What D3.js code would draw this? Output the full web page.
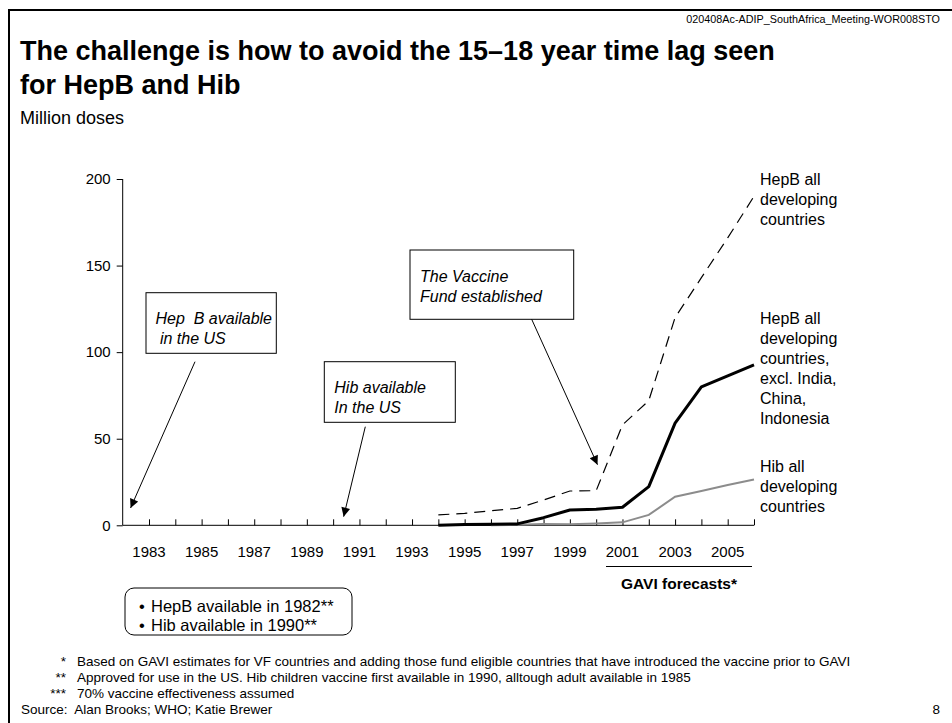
<!DOCTYPE html>
<html>
<head>
<meta charset="utf-8">
<script src="https://cdn.jsdelivr.net/npm/d3@7"></script>
<style>
  html, body { margin: 0; padding: 0; background: #fff; }
  svg { display: block; font-family: "Liberation Sans", Arial, sans-serif; }
</style>
</head>
<body>
<svg id="chart" width="952" height="723"></svg>
<script>
// Annual doses (millions), actuals followed by GAVI forecasts
const years = [1994, 1995, 1996, 1997, 1998, 1999, 2000, 2001, 2002, 2003, 2004, 2005, 2006];
const hepbAll = [6, 6.9, 8.4, 9.8, 14.6, 19.8, 20, 58, 72, 120, 143, 166, 190];
const hepbExcl = [0, 0.4, 0.6, 0.8, 4.4, 8.8, 9.2, 10.4, 22.3, 59, 80, 86.3, 92.6];
const hibAll = [null, null, 0, 0.3, 0.8, 0.6, 1.0, 1.7, 6, 16.5, 19.8, 23.3, 26.5];

const yearTicks = d3.range(1983, 2007);
const yearLabels = [1983, 1985, 1987, 1989, 1991, 1993, 1995, 1997, 1999, 2001, 2003, 2005];
const valueTicks = [0, 50, 100, 150, 200];

const seriesLabels = [
  ["HepB all", "developing", "countries"],
  ["HepB all", "developing", "countries,", "excl. India,", "China,", "Indonesia"],
  ["Hib all", "developing", "countries"]
];

const callouts = [
  { lines: ["Hep  B available", " in the US"], year: 1982.3, value: 10 },
  { lines: ["Hib available", "In the US"], year: 1990.4, value: 5 },
  { lines: ["The Vaccine", "Fund established"], year: 2000.05, value: 35 }
];

const notes = [
  ["*", "Based on GAVI estimates for VF countries and adding those fund eligible countries that have introduced the vaccine prior to GAVI"],
  ["**", "Approved for use in the US. Hib children vaccine first available in 1990, alltough adult available in 1985"],
  ["***", "70% vaccine effectiveness assumed"]
];
const availability = ["HepB available in 1982**", "Hib available in 1990**"];

const svg = d3.select("#chart");

// slide frame (left and top rules)
svg.append("path")
  .attr("d", "M9,723 V10 H952")
  .attr("fill", "none").attr("stroke", "#000").attr("stroke-width", 2);

svg.append("text").attr("x", 940).attr("y", 23).attr("text-anchor", "end")
  .attr("font-size", 10.8).text("020408Ac-ADIP_SouthAfrica_Meeting-WOR008STO");

const title = svg.append("text").attr("font-weight", "bold").attr("font-size", 27);
title.append("tspan").attr("x", 20).attr("y", 60).text("The challenge is how to avoid the 15\u201318 year time lag seen");
title.append("tspan").attr("x", 20).attr("y", 94).text("for HepB and Hib");

svg.append("text").attr("x", 20).attr("y", 124).attr("font-size", 18).text("Million doses");

const x = d3.scaleLinear().domain([1982, 2006]).range([122.7, 754]);
const y = d3.scaleLinear().domain([0, 200]).range([525.3, 179]);

// y axis
const yAxis = svg.append("g").attr("transform", `translate(${x(1982)},0)`)
  .call(d3.axisLeft(y).tickValues(valueTicks).tickSize(6).tickPadding(6).tickFormat(d3.format("d")));
yAxis.select(".domain").attr("stroke", "#000").attr("d", `M0,${y(200)}V${y(0)}`);
yAxis.selectAll("text").attr("font-size", 15).attr("font-family", "Liberation Sans, Arial, sans-serif").attr("fill", "#000");

// x axis: ticks point up into the plot
const xAxis = svg.append("g").attr("transform", `translate(0,${y(0)})`)
  .call(d3.axisTop(x).tickValues(yearTicks).tickSize(6).tickFormat(""));
xAxis.select(".domain").attr("stroke", "#000").attr("d", `M${x(1982)},0H${x(2006)}`);

svg.append("g").selectAll("text").data(yearLabels).join("text")
  .attr("x", d => x(d)).attr("y", y(0) + 32)
  .attr("text-anchor", "middle").attr("font-size", 15).text(d => d);

// series
const line = d3.line().defined(d => d[1] != null).x(d => x(d[0])).y(d => y(d[1]));
const zip = vals => years.map((yr, i) => [yr, vals[i]]);

svg.append("path").datum(zip(hibAll)).attr("d", line)
  .attr("fill", "none").attr("stroke", "#8c8c8c").attr("stroke-width", 2);
svg.append("path").datum(zip(hepbExcl)).attr("d", line)
  .attr("fill", "none").attr("stroke", "#000").attr("stroke-width", 3).attr("stroke-linejoin", "round");
svg.append("path").datum(zip(hepbAll)).attr("d", line)
  .attr("fill", "none").attr("stroke", "#000").attr("stroke-width", 1.2).attr("stroke-dasharray", "11,7");

// series labels
const labelTops = [185, 324, 472];
seriesLabels.forEach((lines, i) => {
  const t = svg.append("text").attr("font-size", 16);
  lines.forEach((s, j) => t.append("tspan").attr("x", 760).attr("y", labelTops[i] + j * 20)
    .text(s));
});

// callout boxes with arrows
const boxes = [
  { x0: 146, y0: 292.7, x1: 276.3, y1: 353.3, tx: 155.5, ty: 324, from: [195, 361.7] },
  { x0: 324.3, y0: 361.7, x1: 455.3, y1: 422.3, tx: 334.3, ty: 393, from: [365.3, 426.7] },
  { x0: 410, y0: 250, x1: 573.7, y1: 319.3, tx: 420, ty: 282, from: [531.7, 319.3] }
];

svg.append("defs").append("marker")
  .attr("id", "head").attr("viewBox", "0 0 10 10").attr("refX", 10).attr("refY", 5)
  .attr("markerWidth", 11).attr("markerHeight", 9).attr("markerUnits", "userSpaceOnUse")
  .attr("orient", "auto")
  .append("path").attr("d", "M0,0L10,5L0,10Z").attr("fill", "#000");

callouts.forEach((c, i) => {
  const b = boxes[i];
  svg.append("rect").attr("x", b.x0).attr("y", b.y0)
    .attr("width", b.x1 - b.x0).attr("height", b.y1 - b.y0)
    .attr("fill", "#fff").attr("stroke", "#000").attr("stroke-width", 1);
  const t = svg.append("text").attr("font-size", 16).attr("font-style", "italic")
    .attr("xml:space", "preserve");
  c.lines.forEach((s, j) => t.append("tspan").attr("x", b.tx).attr("y", b.ty + j * 20).text(s));
  svg.append("line")
    .attr("x1", b.from[0]).attr("y1", b.from[1])
    .attr("x2", x(c.year)).attr("y2", y(c.value))
    .attr("stroke", "#000").attr("stroke-width", 1)
    .attr("marker-end", "url(#head)");
});

// forecast bracket
svg.append("line").attr("x1", 606).attr("x2", 752).attr("y1", 566.5).attr("y2", 566.5)
  .attr("stroke", "#000").attr("stroke-width", 1);
svg.append("text").attr("x", 679).attr("y", 589).attr("text-anchor", "middle")
  .attr("font-size", 15.5).attr("font-weight", "bold").text("GAVI forecasts*");

// availability box
svg.append("rect").attr("x", 125).attr("y", 588).attr("width", 227).attr("height", 47)
  .attr("rx", 9).attr("fill", "#fff").attr("stroke", "#000").attr("stroke-width", 1);
availability.forEach((s, j) => {
  svg.append("text").attr("x", 139).attr("y", 612 + j * 18.5).attr("font-size", 16.5).text("\u2022");
  svg.append("text").attr("x", 151).attr("y", 612 + j * 18.5).attr("font-size", 16.5).text(s);
});

// footnotes
notes.forEach((n, j) => {
  const yy = 666 + j * 16;
  svg.append("text").attr("x", 66).attr("y", yy).attr("text-anchor", "end").attr("font-size", 13.5).text(n[0]);
  svg.append("text").attr("x", 77).attr("y", yy).attr("font-size", 13.5).text(n[1]);
});
svg.append("text").attr("x", 21).attr("y", 714).attr("font-size", 13.5)
  .attr("xml:space", "preserve").text("Source:  Alan Brooks; WHO; Katie Brewer");
svg.append("text").attr("x", 940).attr("y", 714).attr("text-anchor", "end").attr("font-size", 13.5).text("8");
</script>
</body>
</html>
